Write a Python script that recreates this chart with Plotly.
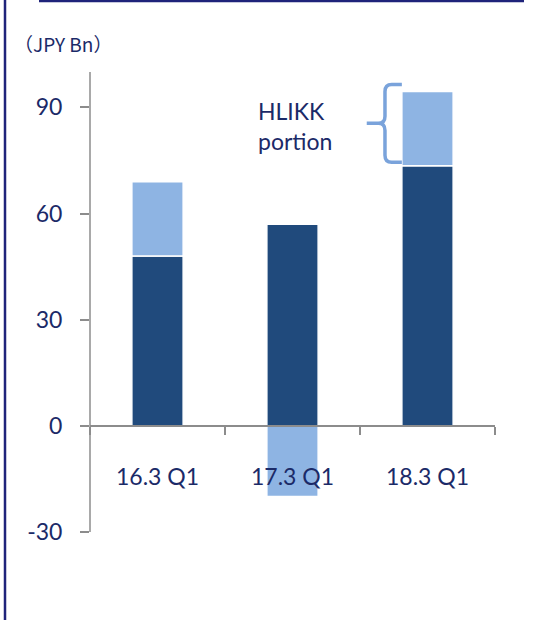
import plotly.graph_objects as go

categories = ["16.3 Q1", "17.3 Q1", "18.3 Q1"]
core_values = [48, 57, 73.5]
hlikk_values = [21, -20, 21]
y_ticks = [-30, 0, 30, 60, 90]
y_tick_text = ["-30", "0", "30", "60", "90"]

DARK = "#204a7c"
LIGHT = "#8eb4e3"
TEXT = "#1b2a68"
AXIS = "#8c8c8c"
BORDER = "#1f237a"
FONT = "Lato"

fig = go.Figure()
fig.add_trace(go.Bar(x=categories, y=core_values, marker=dict(color=DARK, line=dict(color="white", width=1.5)),
                     width=0.38, showlegend=False))
fig.add_trace(go.Bar(x=categories, y=hlikk_values, marker=dict(color=LIGHT, line=dict(color="white", width=1.5)),
                     width=0.38, showlegend=False))

W, H = 539, 620
ml, mr, mt, mb = 90, 44, 72, 88
pw, ph = W - ml - mr, H - mt - mb
ymin, ymax = -30, 100

def px_x(p):
    return (p - ml) / pw

def px_y(p):
    return (H - mb - p) / ph

fig.update_layout(
    width=W, height=H, barmode="relative",
    margin=dict(l=ml, r=mr, t=mt, b=mb),
    plot_bgcolor="white", paper_bgcolor="white",
    font=dict(family=FONT, color=TEXT, size=23),
    xaxis=dict(range=[-0.5, 2.5], anchor="free", position=(0 - ymin) / (ymax - ymin),
               showline=True, linecolor=AXIS, linewidth=1.5,
               ticks="outside", tickson="boundaries", ticklen=8, tickcolor=AXIS, tickwidth=1.5,
               ticklabelstandoff=31, showgrid=False, zeroline=False,
               tickfont=dict(size=23, color=TEXT, family=FONT)),
    yaxis=dict(range=[ymin, ymax], tickvals=y_ticks, ticktext=y_tick_text, showline=False,
               ticks="outside", ticklen=9, tickcolor=AXIS, tickwidth=1.5,
               showgrid=False, zeroline=False, ticklabelstandoff=13,
               tickfont=dict(size=23, color=TEXT, family=FONT)),
)

# y axis line from -30 to 100
fig.add_shape(type="line", xref="paper", yref="y", x0=0, x1=0, y0=ymin, y1=ymax,
              line=dict(color=AXIS, width=1.5))

# border lines
fig.add_shape(type="line", xref="paper", yref="paper", x0=px_x(5), x1=px_x(5), y0=px_y(622), y1=px_y(0),
              line=dict(color=BORDER, width=2.5))
fig.add_shape(type="line", xref="paper", yref="paper", x0=px_x(39), x1=px_x(524), y0=px_y(1), y1=px_y(1),
              line=dict(color=BORDER, width=2.5))

# unit label
fig.add_annotation(text="（JPY Bn）", xref="paper", yref="paper", x=px_x(12), y=px_y(43),
                   xanchor="left", yanchor="middle", showarrow=False,
                   font=dict(size=19, color=TEXT, family="Noto Sans CJK JP"))

# HLIKK portion label
fig.add_annotation(text="HLIKK<br>portion", xref="x", yref="y", x=0.73, y=core_values[2] + hlikk_values[2] / 2 + 0.6,
                   xanchor="left", yanchor="middle", align="left", showarrow=False,
                   font=dict(size=23, color=TEXT, family=FONT))

# curly bracket beside the HLIKK portion of the last bar
yb = core_values[2] + 1
yt = core_values[2] + hlikk_values[2] + 2
ym = (yb + yt) / 2
xv = 2 - 0.315
xe = 2 - 0.19
xt = 2 - 0.45
r = 2.0
rx = 0.05
path = (f"M {xe},{yt} L {xv+rx},{yt} Q {xv},{yt} {xv},{yt-r} "
        f"L {xv},{ym+r} Q {xv},{ym} {xv-rx},{ym} L {xt},{ym} "
        f"M {xv-rx},{ym} Q {xv},{ym} {xv},{ym-r} "
        f"L {xv},{yb+r} Q {xv},{yb} {xv+rx},{yb} L {xe},{yb}")
fig.add_shape(type="path", xref="x", yref="y", path=path,
              line=dict(color="#7aa3db", width=3.5))

fig.write_html("out.html", config={"displayModeBar": False},
               post_script="document.body.style.margin='0';")
